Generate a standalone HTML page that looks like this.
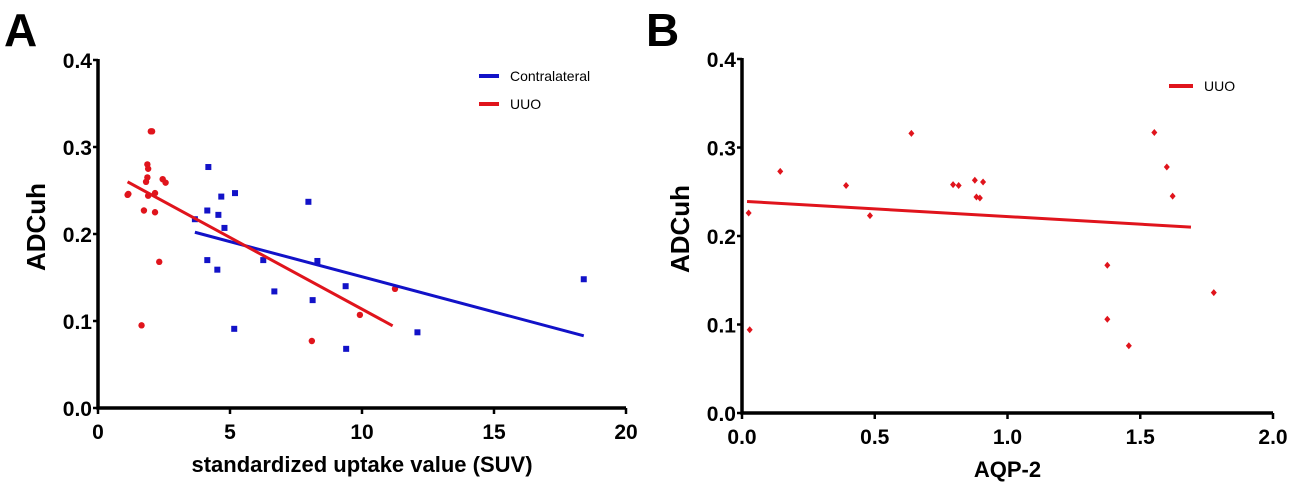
<!DOCTYPE html>
<html><head><meta charset="utf-8"><style>
body{margin:0;background:#fff;}
svg{display:block;font-family:"Liberation Sans",Arial,sans-serif;}
</style></head><body>
<svg id="chart" width="1295" height="485">
<text x="4" y="46" font-size="46" font-weight="bold">A</text>
<text x="646" y="46" font-size="46" font-weight="bold">B</text>
<g id="pa"></g>
<g id="pb"></g>
<g>
<line x1="479" y1="76" x2="499" y2="76" stroke="#1212c8" stroke-width="4"/>
<text x="510" y="81" font-size="14">Contralateral</text>
<line x1="479" y1="104" x2="499" y2="104" stroke="#e0141c" stroke-width="4"/>
<text x="510" y="109" font-size="14">UUO</text>
</g>
<g>
<line x1="1169" y1="86" x2="1193" y2="86" stroke="#e0141c" stroke-width="4"/>
<text x="1204" y="91" font-size="14">UUO</text>
</g>
</svg>
<script>
// Panel A data
const aRedX = [2.0,2.05,1.87,1.9,1.87,1.82,2.45,2.56,1.12,1.15,1.9,2.16,1.74,2.16,2.32,1.65,8.1,9.92,11.25];
const aRedY = [0.318,0.318,0.280,0.275,0.265,0.260,0.263,0.259,0.245,0.246,0.244,0.247,0.227,0.225,0.168,0.095,0.077,0.107,0.137];
const aBlueX = [4.18,4.67,5.19,7.97,4.14,4.56,3.67,4.79,4.14,4.52,6.26,8.31,6.68,8.13,9.38,5.16,9.4,12.1,18.4];
const aBlueY = [0.277,0.243,0.247,0.237,0.227,0.222,0.217,0.207,0.170,0.159,0.170,0.169,0.134,0.124,0.140,0.091,0.068,0.087,0.148];
const aRedFitX = [1.12,11.16], aRedFitY = [0.260,0.0945];
const aBlueFitX = [3.67,18.4], aBlueFitY = [0.202,0.083];
const aXTicks = [0,5,10,15,20], aXTickLabels = ["0","5","10","15","20"];
const yTicks = [0,0.1,0.2,0.3,0.4], yTickLabels = ["0.0","0.1","0.2","0.3","0.4"];
// Panel B data
const bX = [0.025,0.029,0.144,0.392,0.482,0.638,0.795,0.816,0.877,0.908,0.883,0.896,1.376,1.376,1.457,1.553,1.6,1.622,1.777];
const bY = [0.226,0.094,0.273,0.257,0.223,0.316,0.258,0.257,0.263,0.261,0.244,0.243,0.167,0.106,0.076,0.317,0.278,0.245,0.136];
const bFitX = [0.019,1.691], bFitY = [0.239,0.210];
const bXTicks = [0,0.5,1,1.5,2], bXTickLabels = ["0.0","0.5","1.0","1.5","2.0"];

const NS="http://www.w3.org/2000/svg";
function mk(p,tag,at){const e=document.createElementNS(NS,tag);for(const k in at)e.setAttribute(k,at[k]);p.appendChild(e);return e;}
const RED="#e0141c", BLUE="#1212c8";

function panel(g,o){
  const sx=v=>o.x0+(v-o.xmin)/(o.xmax-o.xmin)*(o.x1-o.x0);
  const sy=v=>o.y0+(v/0.4)*(o.y1-o.y0);
  const ax=mk(g,'path',{d:`M${o.x0},${o.y1-1} V${o.y0} H${o.x1}`,stroke:'#000','stroke-width':3.5,fill:'none'});
  
  
  yTicks.forEach((t,i)=>{
    const y=sy(t);
    const tk=mk(g,'line',{x1:o.x0-5,x2:o.x0,y1:y,y2:y,stroke:'#000','stroke-width':2.5});
    
    
    const tx=mk(g,'text',{x:o.x0-6,y:y+8,'text-anchor':'end','font-size':21,'font-weight':'bold'});
    tx.textContent=yTickLabels[i];
    
    
  });
  o.xt.forEach((t,i)=>{
    const x=sx(t);
    const tk=mk(g,'line',{x1:x,x2:x,y1:o.y0,y2:o.y0+6,stroke:'#000','stroke-width':2.5});
    
    
    const tx=mk(g,'text',{x:x,y:o.y0+31,'text-anchor':'middle','font-size':21,'font-weight':'bold'});
    tx.textContent=o.xl[i];
    
    
  });
  const yt=mk(g,'text',{x:0,y:0,transform:`translate(${o.x0-53},${(o.y0+o.y1)/2-7}) rotate(-90)`,'text-anchor':'middle','font-size':26,'font-weight':'bold'});
  yt.textContent='ADCuh';
  
  
  const xt=mk(g,'text',{x:(o.x0+o.x1)/2,y:o.y0+64,'text-anchor':'middle','font-size':22,'font-weight':'bold'});
  xt.textContent=o.xtitle;
  
  
  return {sx,sy};
}

const ga=document.getElementById('pa');
const A=panel(ga,{x0:98,x1:626,xmin:0,xmax:20,y0:408,y1:60,xt:aXTicks,xl:aXTickLabels,xtitle:'standardized uptake value (SUV)'});
aBlueX.forEach((v,i)=>{
  const r=mk(ga,'rect',{x:A.sx(v)-3,y:A.sy(aBlueY[i])-3,width:6,height:6,fill:BLUE});
  
  
});
aRedX.forEach((v,i)=>{
  const c=mk(ga,'circle',{cx:A.sx(v),cy:A.sy(aRedY[i]),r:3.2,fill:RED});
  
  
});
let l=mk(ga,'line',{x1:A.sx(aBlueFitX[0]),y1:A.sy(aBlueFitY[0]),x2:A.sx(aBlueFitX[1]),y2:A.sy(aBlueFitY[1]),stroke:BLUE,'stroke-width':3});


l=mk(ga,'line',{x1:A.sx(aRedFitX[0]),y1:A.sy(aRedFitY[0]),x2:A.sx(aRedFitX[1]),y2:A.sy(aRedFitY[1]),stroke:RED,'stroke-width':3});



const gb=document.getElementById('pb');
const B=panel(gb,{x0:742,x1:1273,xmin:0,xmax:2,y0:413,y1:59,xt:bXTicks,xl:bXTickLabels,xtitle:'AQP-2'});
bX.forEach((v,i)=>{
  const x=B.sx(v),y=B.sy(bY[i]);
  const d=mk(gb,'path',{d:`M${x},${y-3.5} L${x+3},${y} L${x},${y+3.5} L${x-3},${y} Z`,fill:RED});
  
  
});
l=mk(gb,'line',{x1:B.sx(bFitX[0]),y1:B.sy(bFitY[0]),x2:B.sx(bFitX[1]),y2:B.sy(bFitY[1]),stroke:RED,'stroke-width':3});


</script>
</body></html>
